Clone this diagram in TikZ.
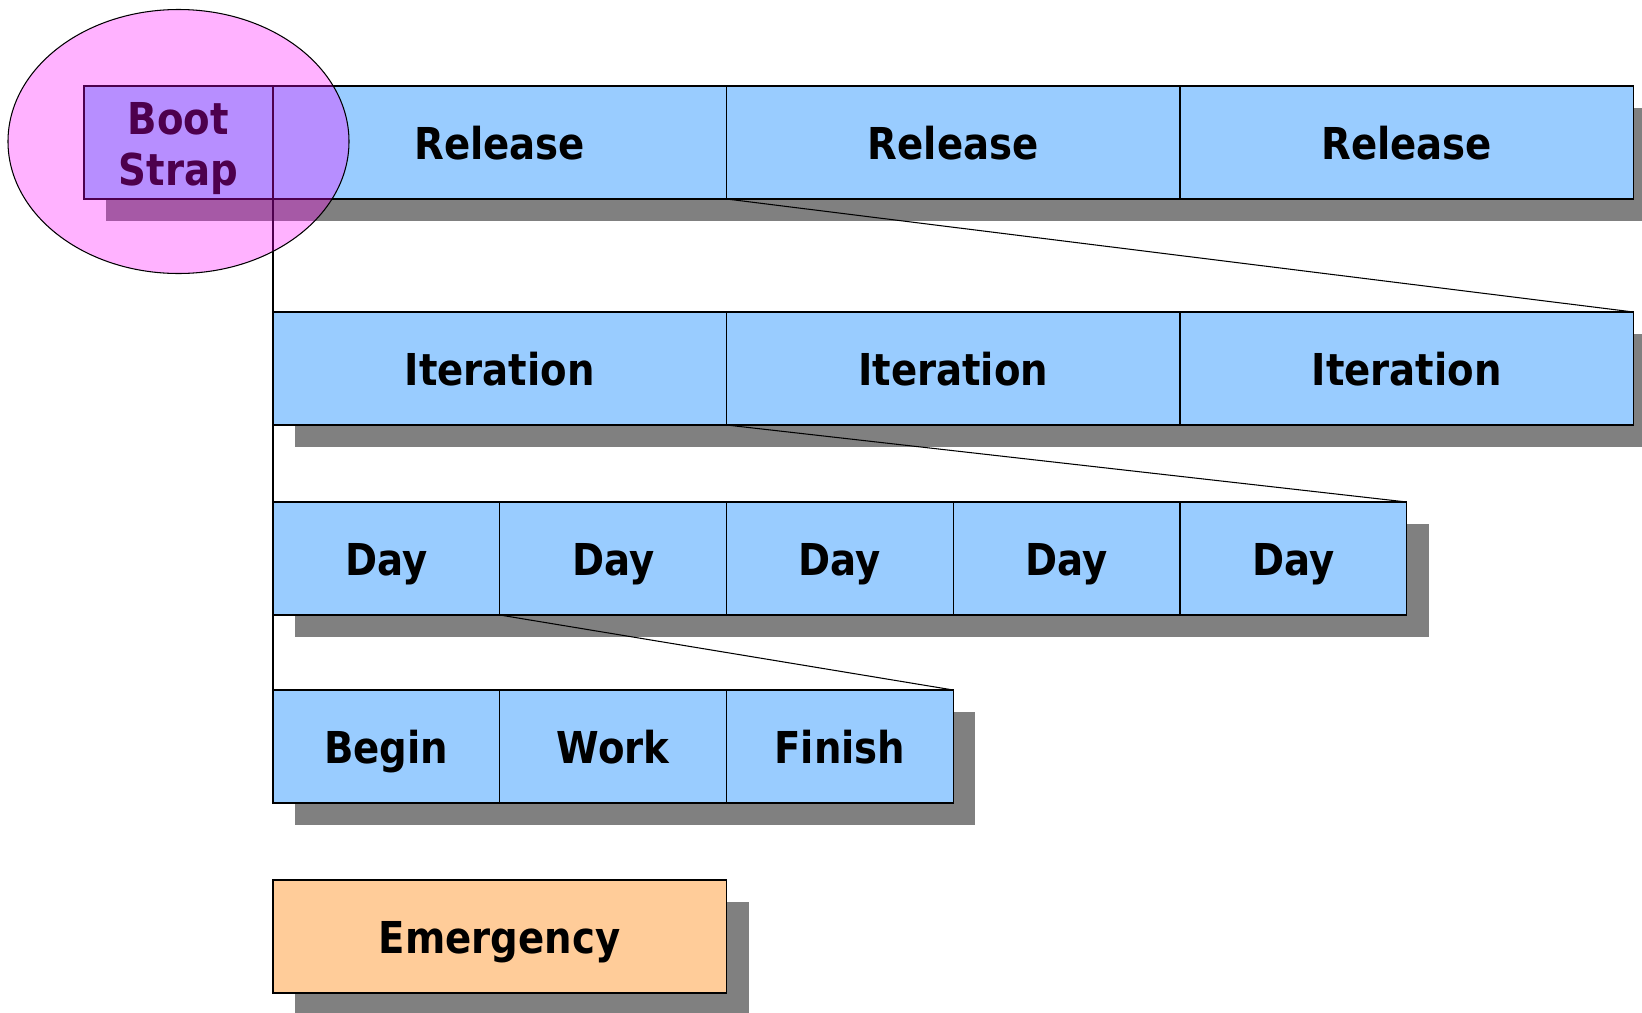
\documentclass[tikz,border=0pt]{standalone}
\usepackage{fontspec}
\newfontfamily\cellfont{DejaVu Sans}[FakeStretch=0.88]
\usetikzlibrary{positioning,shadows}
\definecolor{cellblue}{HTML}{99CCFF}
\definecolor{cellorange}{HTML}{FFCC99}
\definecolor{shade}{HTML}{808080}
\definecolor{strap}{HTML}{FF00FF}
\newcommand{\CellW}{4.535cm}
\newcommand{\CellH}{2.26cm}
\newcommand{\Drop}{0.44cm}

\begin{document}
\begin{tikzpicture}[
    cell/.style={draw=black, line width=0.6pt, fill=cellblue, minimum width=\CellW, minimum height=\CellH,
      inner sep=0pt, outer sep=0pt, text height=0.88cm, text depth=0.2cm,
      font=\cellfont\bfseries\fontsize{25}{29}\selectfont, align=center,
      drop shadow={shadow xshift=\Drop, shadow yshift=-\Drop, fill=shade, opacity=1}},
    wide/.style={minimum width=2*\CellW},
    link/.style={draw=black, line width=0.6pt},
  ]
\useasboundingbox (0,0) rectangle (32.84,-20.26);
\clip (0,0) rectangle (32.84,-20.26);

% --- Releases, with the boot strap in front ----------------------------------
\node[cell, minimum width=3.78cm, text height=1.92cm, text depth=0.2cm, anchor=north east] (boot) at (5.46,-1.72) {Boot\\Strap};
\node[cell, wide, right=0pt of boot] (rel1) {Release};
\foreach \i [count=\j from 2] in {1,2}
  \node[cell, wide, right=0pt of rel\i] (rel\j) {Release};

% --- Iterations ---------------------------------------------------------------
\node[cell, wide, anchor=north west] (it1) at (5.46,-6.24) {Iteration};
\foreach \i [count=\j from 2] in {1,2}
  \node[cell, wide, right=0pt of it\i] (it\j) {Iteration};

% --- Days ---------------------------------------------------------------------
\node[cell, anchor=north west] (day1) at (5.46,-10.04) {Day};
\foreach \i [count=\j from 2] in {1,...,4}
  \node[cell, right=0pt of day\i] (day\j) {Day};

% --- One day ------------------------------------------------------------------
\node[cell, anchor=north west] (beg) at (5.46,-13.8) {Begin};
\node[cell, right=0pt of beg] (work) {Work};
\node[cell, right=0pt of work] (fin) {Finish};

\node[cell, wide, fill=cellorange, anchor=north west] (emg) at (5.46,-17.6) {Emergency};

% --- Zoom lines between the rows ----------------------------------------------
\draw[link] (rel1.south west) -- (it1.north west);
\draw[link] (rel1.south east) -- (it3.north east);
\draw[link] (it1.south west) -- (day1.north west);
\draw[link] (it1.south east) -- (day5.north east);
\draw[link] (day1.south west) -- (beg.north west);
\draw[link] (day1.south east) -- (fin.north east);

% --- The boot strap bubble (drawn last) ---------------------------------------
\draw[line width=0.6pt, fill=strap, fill opacity=0.3] (3.57,-2.83) ellipse [x radius=3.41, y radius=2.64];
\end{tikzpicture}
\end{document}
